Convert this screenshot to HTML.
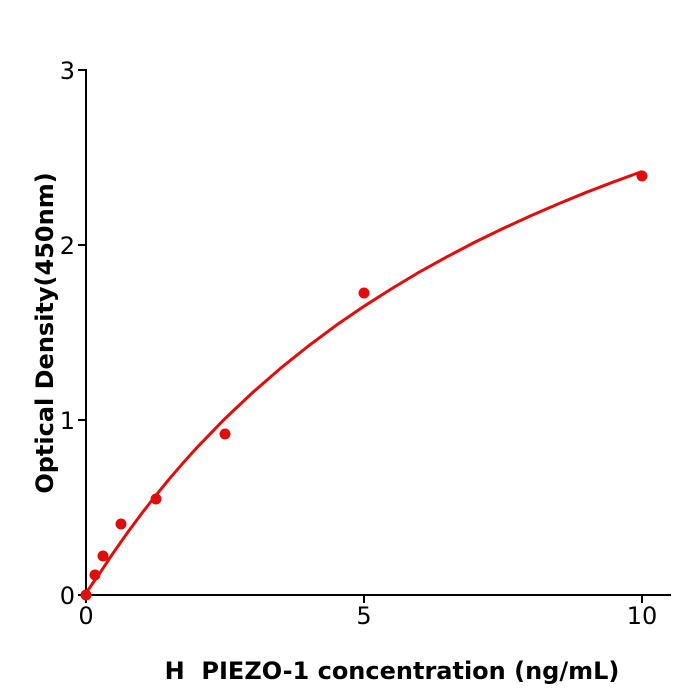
<!DOCTYPE html>
<html><head><meta charset="utf-8"><style>
html,body{margin:0;padding:0;background:#fff;}
svg{display:block;}
text{font-family:"DejaVu Sans","Liberation Sans",sans-serif;fill:#000;}
</style></head><body>
<svg width="700" height="700" viewBox="0 0 700 700" xmlns="http://www.w3.org/2000/svg">
<g stroke="#000" stroke-width="2" fill="none">
<line x1="86" y1="69" x2="86" y2="596"/>
<line x1="85" y1="595" x2="671" y2="595"/>
<line x1="78" y1="70" x2="86" y2="70"/>
<line x1="78" y1="245" x2="86" y2="245"/>
<line x1="78" y1="420" x2="86" y2="420"/>
<line x1="78" y1="595" x2="86" y2="595"/>
<line x1="86" y1="595" x2="86" y2="603"/>
<line x1="364" y1="595" x2="364" y2="603"/>
<line x1="642" y1="595" x2="642" y2="603"/>
</g>
<g font-size="24" text-anchor="end">
<text x="75" y="79">3</text>
<text x="75" y="254">2</text>
<text x="75" y="429">1</text>
<text x="75" y="604">0</text>
</g>
<g font-size="24" text-anchor="middle">
<text x="86" y="624">0</text>
<text x="364" y="624">5</text>
<text x="642" y="624">10</text>
</g>
<text x="392" y="679" font-size="24" font-weight="bold" text-anchor="middle">H&#160; PIEZO-1 concentration (ng/mL)</text>
<text transform="translate(53,333) rotate(-90)" font-size="24" font-weight="bold" text-anchor="middle">Optical Density(450nm)</text>
<polyline fill="none" stroke="#e00d0d" stroke-width="3" stroke-linejoin="round"
points="86,593 99.9,573 113.8,552.1 127.7,532.3 141.6,513.6 155.5,495.8 169.4,478.8 183.3,462.7 197.2,447.3 225,418.6 252.8,392.4 280.6,368.2 308.4,346 336.2,325.3 364,306.3 391.8,288.6 419.6,271.9 447.4,256.6 475.2,242 503,228.5 530.8,215.8 558.6,203.7 586.4,192.3 614.2,181.7 642,171.5"/>
<g fill="#e00d0d">
<circle cx="86" cy="595" r="5.5"/>
<circle cx="95" cy="575" r="5.5"/>
<circle cx="103" cy="556" r="5.5"/>
<circle cx="121" cy="524" r="5.5"/>
<circle cx="156" cy="499" r="5.5"/>
<circle cx="225" cy="434" r="5.5"/>
<circle cx="364" cy="293" r="5.5"/>
<circle cx="642" cy="176" r="5.5"/>
</g>
</svg>
</body></html>
